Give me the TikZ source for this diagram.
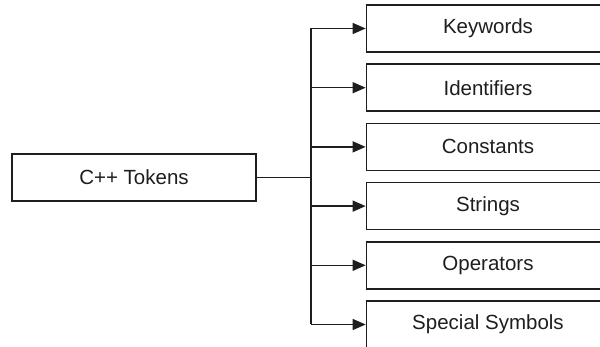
\documentclass[tikz,border=0pt]{standalone}
\usepackage{fontspec}
\setmainfont{Liberation Sans}
\usepackage{tikz}
\usetikzlibrary{arrows.meta}
\definecolor{ink}{HTML}{1E1E1E}
\tikzset{
	tokenbox/.style={rectangle,draw=ink,line width=1.7pt,minimum width=244pt,minimum height=47pt,inner sep=0pt,font=\fontsize{20.5}{24}\selectfont,text=ink},
	kindbox/.style={tokenbox,minimum width=243pt},
	link/.style={draw=ink,line width=1.4pt},
	directed/.style={link,arrows={-Triangle[length=13pt,width=11pt]}}
	}
\begin{document}
\begin{tikzpicture}[x=1pt,y=-1pt]
		\clip (0,0) rectangle (600,347);
		\node[tokenbox] (tok) at (134,177.5) {C++ Tokens};
		\node[kindbox] (kw) at (488,28.5) {Keywords};
		\node[kindbox] (id) at (488,87.7) {Identifiers};
		\node[kindbox] (con) at (488,146.9) {Constants};
		\node[kindbox] (str) at (488,206.1) {Strings};
		\node[kindbox] (op) at (488,265.3) {Operators};
		\node[kindbox] (sym) at (488,324.5) {Special Symbols};
		\coordinate (split) at (311,177.5);
	
		\draw[link] (tok.east) -- (split);
		\draw[link] (split |- kw.west) -- (split |- sym.west);
		\draw[directed] (split |- kw.west) -- (kw.west);
		\draw[directed] (split |- id.west) -- (id.west);
		\draw[directed] (split |- con.west) -- (con.west);
		\draw[directed] (split |- str.west) -- (str.west);
		\draw[directed] (split |- op.west) -- (op.west);
		\draw[directed] (split |- sym.west) -- (sym.west);
	\end{tikzpicture}
\end{document}
